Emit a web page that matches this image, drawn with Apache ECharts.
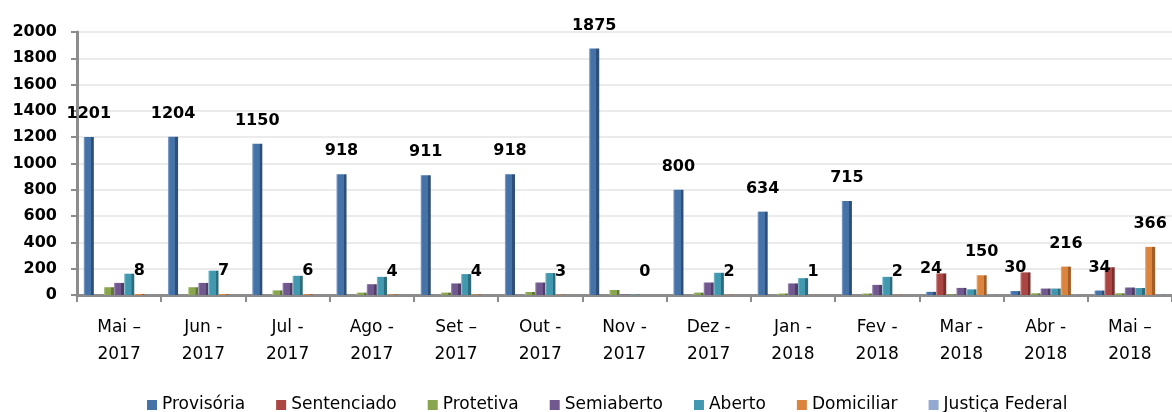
<!DOCTYPE html>
<html lang="pt">
  <head>
    <meta charset="UTF-8" />
    <script src="https://cdn.jsdelivr.net/npm/echarts@6/dist/echarts.min.js"></script>
    <title>Custodiados por regime</title>
  </head>
  <body style="margin: 0; background: #fff">
    <div id="chart" style="width: 1172px; height: 412px"></div>
  </body>
</html>

<script>
  const meses = [
    "Mai –\n2017", "Jun -\n2017", "Jul -\n2017", "Ago -\n2017", "Set –\n2017",
    "Out -\n2017", "Nov -\n2017", "Dez -\n2017", "Jan -\n2018", "Fev -\n2018",
    "Mar -\n2018", "Abr -\n2018", "Mai –\n2018",
  ];
  const provisoria = [1201, 1204, 1150, 918, 911, 918, 1875, 800, 634, 715, 24, 30, 34];
  const sentenciado = [0, 0, 0, 0, 0, 0, 0, 0, 0, 0, 164, 172, 211];
  const protetiva = [59, 59, 35, 18, 18, 23, 38, 18, 11, 11, 5, 13, 13];
  const semiaberto = [92, 92, 92, 82, 88, 95, 3, 95, 88, 77, 54, 49, 57];
  const aberto = [162, 185, 146, 138, 159, 167, 3, 169, 128, 138, 43, 49, 53];
  const domiciliar = [8, 7, 6, 4, 4, 3, 0, 2, 1, 2, 150, 216, 366];
  const justicaFederal = [0, 0, 0, 0, 0, 0, 0, 0, 0, 0, 2, 2, 2];

  const cores = {
    "Provisória": ["#4572A7", "#8fa9cf", "#2f4f78"],
    "Sentenciado": ["#AA4643", "#d08c8a", "#7a2f2d"],
    "Protetiva": ["#89A54E", "#b8cc8c", "#627838"],
    "Semiaberto": ["#71588F", "#a391b8", "#503e67"],
    "Aberto": ["#4198AF", "#86c2d2", "#2c6c7d"],
    "Domiciliar": ["#DB843D", "#edb383", "#a45e25"],
    "Justiça Federal": ["#93A9CF", "#c2d0e6", "#6d82a8"],
  };

  const chart = echarts.init(document.getElementById("chart"));

  // barras com cara de 3D: borda clara à esquerda, lado escuro à direita
  const shade = ([c, light, dark]) => ({
    type: "linear", x: 0, y: 0, x2: 1, y2: 0,
    colorStops: [
      { offset: 0, color: light },
      { offset: 0.18, color: c },
      { offset: 0.72, color: c },
      { offset: 0.73, color: dark },
      { offset: 1, color: dark },
    ],
  });

  const labelStyle = {
    show: true,
    position: "top",
    distance: 15,
    color: "#000",
    fontFamily: "DejaVu Sans",
    fontWeight: "bold",
    fontSize: 16,
  };

  const serie = (name, data, label) => ({
    name: name,
    type: "bar",
    data: data,
    barGap: 0,
    barCategoryGap: "16%",
    itemStyle: { color: shade(cores[name]) },
    label: label ? labelStyle : { show: false },
  });

  chart.setOption({
    animation: false,
    grid: { left: 77, right: 0, top: 32, bottom: 117 },
    legend: {
      left: 147,
      top: 396,
      padding: 0,
      itemWidth: 10,
      itemHeight: 10,
      itemGap: 31,
      icon: "rect",
      data: Object.keys(cores).map((n) => ({ name: n, itemStyle: { color: cores[n][0] } })),
      textStyle: { fontFamily: "DejaVu Sans", fontSize: 17, lineHeight: 18, color: "#000" },
    },
    xAxis: {
      type: "category",
      data: meses,
      axisLine: { lineStyle: { color: "#8c8c8c", width: 3 } },
      axisTick: { show: true, length: 7, lineStyle: { color: "#8c8c8c", width: 2 } },
      axisLabel: {
        color: "#000",
        fontFamily: "DejaVu Sans",
        fontSize: 17,
        lineHeight: 27,
        margin: 19,
        interval: 0,
      },
    },
    yAxis: {
      type: "value",
      min: 0,
      max: 2000,
      interval: 200,
      axisLine: { show: true, lineStyle: { color: "#8c8c8c", width: 3 } },
      axisTick: { show: true, length: 6, lineStyle: { color: "#8c8c8c", width: 2 } },
      axisLabel: {
        color: "#000",
        fontFamily: "DejaVu Sans",
        fontWeight: "bold",
        fontSize: 16,
        margin: 20,
        formatter: (v) => String(v),
      },
      splitLine: { lineStyle: { color: "#ebebeb", width: 2 } },
    },
    series: [
      serie("Provisória", provisoria, true),
      serie("Sentenciado", sentenciado, false),
      serie("Protetiva", protetiva, false),
      serie("Semiaberto", semiaberto, false),
      serie("Aberto", aberto, false),
      serie("Domiciliar", domiciliar, true),
      serie("Justiça Federal", justicaFederal, false),
    ],
  });
</script>
